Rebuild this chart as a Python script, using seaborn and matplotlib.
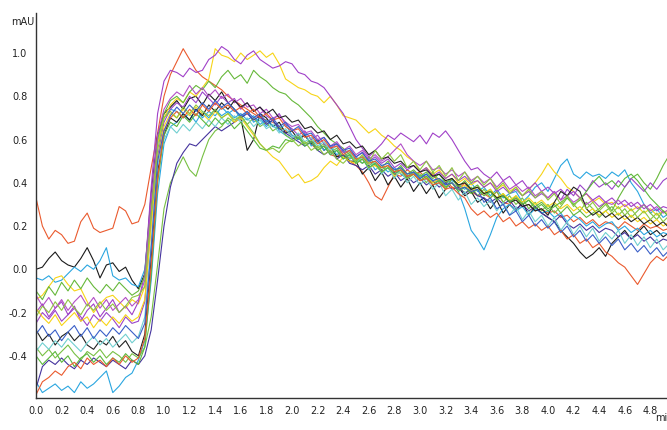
import numpy as np
import pandas as pd
import matplotlib
matplotlib.use('Agg')
import matplotlib.pyplot as plt
import seaborn as sns

# sampling grid of the detector traces (min)
time_min = np.round(np.arange(100) * 0.05, 2)

# traces, 10 values per 0.5 min
orange_1 = [0.33,0.20,0.14,0.18,0.16,0.12,0.13,0.22,0.26,0.19,
            0.17,0.18,0.19,0.29,0.27,0.21,0.22,0.30,0.47,0.63,
            0.80,0.90,0.96,1.02,0.97,0.92,0.89,0.87,0.85,0.83,
            0.80,0.78,0.76,0.74,0.72,0.70,0.69,0.68,0.66,0.64,
            0.62,0.60,0.62,0.58,0.55,0.57,0.53,0.52,0.55,0.50,
            0.48,0.45,0.40,0.34,0.32,0.38,0.44,0.43,0.46,0.44,
            0.45,0.42,0.44,0.40,0.41,0.38,0.37,0.40,0.36,0.34,
            0.35,0.33,0.36,0.31,0.30,0.33,0.29,0.30,0.27,0.28,
            0.26,0.27,0.24,0.25,0.22,0.24,0.21,0.23,0.20,0.22,
            0.21,0.19,0.22,0.20,0.18,0.21,0.19,0.20,0.18,0.19]
black_1 = [0.00,0.01,0.05,0.08,0.04,0.02,0.01,0.05,0.10,0.04,
           -0.04,0.02,0.03,-0.01,0.01,-0.05,-0.09,-0.02,0.35,0.62,
           0.72,0.75,0.78,0.74,0.79,0.80,0.76,0.81,0.78,0.82,
           0.77,0.74,0.70,0.55,0.60,0.72,0.70,0.66,0.68,0.63,
           0.64,0.60,0.62,0.58,0.60,0.55,0.57,0.52,0.53,0.50,
           0.50,0.44,0.47,0.41,0.45,0.39,0.43,0.38,0.42,0.36,
           0.40,0.35,0.39,0.33,0.37,0.42,0.38,0.34,0.36,0.31,
           0.33,0.28,0.32,0.26,0.30,0.27,0.31,0.25,0.29,0.26,
           0.24,0.22,0.18,0.15,0.12,0.08,0.05,0.07,0.10,0.06,
           0.12,0.15,0.18,0.14,0.17,0.20,0.16,0.18,0.15,0.17]
skyblue_1 = [-0.04,-0.05,-0.03,-0.06,-0.05,-0.02,0.01,-0.01,0.02,0.00,
             0.04,0.10,-0.03,-0.05,-0.04,-0.07,-0.08,0.00,0.30,0.58,
             0.70,0.74,0.73,0.70,0.72,0.68,0.73,0.70,0.74,0.71,
             0.73,0.70,0.72,0.69,0.71,0.67,0.69,0.66,0.65,0.67,
             0.62,0.60,0.63,0.57,0.59,0.55,0.57,0.53,0.55,0.51,
             0.52,0.49,0.51,0.46,0.48,0.45,0.47,0.44,0.42,0.45,
             0.43,0.44,0.41,0.42,0.40,0.41,0.39,0.37,0.40,0.36,
             0.38,0.34,0.37,0.33,0.35,0.36,0.31,0.34,0.38,0.40,
             0.36,0.42,0.48,0.51,0.44,0.42,0.45,0.43,0.44,0.42,
             0.45,0.43,0.46,0.40,0.36,0.30,0.26,0.28,0.24,0.26]
skyblue_2 = [-0.52,-0.57,-0.55,-0.53,-0.56,-0.54,-0.57,-0.52,-0.55,-0.53,
             -0.50,-0.47,-0.57,-0.54,-0.50,-0.48,-0.42,-0.33,-0.05,0.35,
             0.58,0.66,0.68,0.72,0.69,0.74,0.70,0.73,0.71,0.75,
             0.72,0.74,0.70,0.73,0.68,0.70,0.66,0.69,0.64,0.62,
             0.60,0.62,0.57,0.59,0.55,0.57,0.53,0.55,0.51,0.53,
             0.49,0.51,0.47,0.49,0.45,0.47,0.44,0.46,0.43,0.45,
             0.42,0.44,0.40,0.41,0.39,0.40,0.36,0.28,0.18,0.14,
             0.09,0.16,0.24,0.28,0.30,0.27,0.29,0.25,0.28,0.26,
             0.27,0.24,0.26,0.22,0.25,0.23,0.20,0.22,0.19,0.21,
             0.22,0.18,0.20,0.17,0.19,0.16,0.18,0.15,0.17,0.16]
yellow_1 = [-0.14,-0.12,-0.08,-0.04,-0.03,-0.07,-0.10,-0.09,-0.15,-0.20,
            -0.16,-0.13,-0.12,-0.15,-0.18,-0.14,-0.16,-0.08,0.28,0.58,
            0.70,0.76,0.79,0.77,0.82,0.80,0.84,0.88,1.02,0.99,
            0.98,0.96,1.00,0.97,0.99,1.01,0.98,1.00,0.95,0.88,
            0.86,0.84,0.83,0.81,0.80,0.77,0.80,0.76,0.71,0.70,
            0.69,0.66,0.63,0.65,0.62,0.60,0.57,0.55,0.52,0.50,
            0.45,0.47,0.44,0.46,0.42,0.44,0.40,0.42,0.39,0.41,
            0.38,0.40,0.37,0.39,0.36,0.38,0.34,0.37,0.40,0.44,
            0.49,0.45,0.42,0.38,0.36,0.33,0.35,0.31,0.33,0.30,
            0.31,0.28,0.30,0.27,0.29,0.26,0.28,0.25,0.27,0.26]
purple_1 = [-0.20,-0.16,-0.22,-0.18,-0.15,-0.21,-0.17,-0.24,-0.19,-0.16,
            -0.22,-0.18,-0.14,-0.20,-0.17,-0.21,-0.15,-0.02,0.38,0.72,
            0.87,0.92,0.91,0.89,0.93,0.91,0.92,0.97,0.99,1.03,
            1.01,0.97,0.95,0.99,1.01,0.97,0.95,0.93,0.94,0.96,
            0.95,0.91,0.90,0.87,0.86,0.84,0.80,0.76,0.72,0.66,
            0.60,0.56,0.52,0.55,0.58,0.62,0.60,0.63,0.61,0.59,
            0.62,0.58,0.63,0.61,0.64,0.60,0.55,0.50,0.46,0.47,
            0.44,0.42,0.45,0.41,0.43,0.39,0.41,0.37,0.40,0.36,
            0.38,0.35,0.37,0.34,0.36,0.33,0.35,0.32,0.34,0.31,
            0.33,0.30,0.32,0.29,0.31,0.28,0.30,0.27,0.29,0.28]
green_1 = [-0.10,-0.14,-0.08,-0.12,-0.06,-0.10,-0.05,-0.09,-0.04,-0.08,
           -0.11,-0.07,-0.10,-0.06,-0.09,-0.12,-0.10,-0.03,0.30,0.60,
           0.72,0.78,0.80,0.77,0.82,0.85,0.83,0.87,0.84,0.89,
           0.92,0.88,0.90,0.86,0.92,0.89,0.87,0.84,0.82,0.81,
           0.78,0.76,0.73,0.70,0.66,0.63,0.60,0.58,0.56,0.53,
           0.51,0.49,0.52,0.48,0.47,0.50,0.45,0.48,0.44,0.46,
           0.43,0.45,0.42,0.44,0.40,0.42,0.38,0.41,0.37,0.39,
           0.35,0.37,0.33,0.35,0.31,0.34,0.30,0.32,0.29,0.31,
           0.28,0.30,0.26,0.29,0.25,0.27,0.24,0.26,0.28,0.31,
           0.27,0.33,0.38,0.42,0.44,0.40,0.37,0.42,0.48,0.53]
green_2 = [-0.36,-0.40,-0.37,-0.41,-0.38,-0.35,-0.39,-0.42,-0.38,-0.40,
           -0.37,-0.41,-0.38,-0.40,-0.43,-0.39,-0.41,-0.36,-0.22,0.02,
           0.28,0.40,0.46,0.52,0.46,0.43,0.52,0.60,0.64,0.66,
           0.70,0.68,0.71,0.67,0.70,0.66,0.68,0.64,0.66,0.62,
           0.60,0.62,0.58,0.60,0.56,0.58,0.54,0.56,0.52,0.54,
           0.50,0.52,0.48,0.50,0.46,0.48,0.45,0.47,0.43,0.45,
           0.44,0.40,0.45,0.41,0.37,0.42,0.39,0.35,0.38,0.34,
           0.37,0.33,0.36,0.31,0.34,0.30,0.33,0.28,0.31,0.27,
           0.30,0.26,0.29,0.33,0.30,0.27,0.31,0.28,0.24,0.27,
           0.29,0.25,0.28,0.24,0.27,0.30,0.26,0.23,0.27,0.24]
indigo_1 = [-0.55,-0.45,-0.42,-0.44,-0.41,-0.44,-0.46,-0.42,-0.44,-0.41,
            -0.43,-0.45,-0.42,-0.44,-0.46,-0.42,-0.44,-0.40,-0.28,-0.05,
            0.20,0.38,0.49,0.54,0.58,0.57,0.60,0.63,0.66,0.64,
            0.66,0.68,0.70,0.72,0.69,0.71,0.67,0.69,0.65,0.63,
            0.61,0.59,0.57,0.59,0.55,0.53,0.55,0.51,0.53,0.49,
            0.48,0.46,0.48,0.44,0.46,0.43,0.45,0.41,0.43,0.40,
            0.42,0.39,0.41,0.38,0.40,0.37,0.38,0.35,0.37,0.34,
            0.33,0.31,0.33,0.30,0.32,0.28,0.30,0.27,0.29,0.26,
            0.24,0.22,0.25,0.21,0.19,0.21,0.18,0.20,0.17,0.19,
            0.18,0.15,0.17,0.14,0.16,0.13,0.15,0.12,0.14,0.13]
purple_2 = [-0.25,-0.20,-0.23,-0.19,-0.24,-0.21,-0.18,-0.22,-0.26,-0.21,
            -0.24,-0.20,-0.23,-0.27,-0.22,-0.25,-0.24,-0.15,0.22,0.52,
            0.68,0.74,0.77,0.75,0.80,0.77,0.82,0.79,0.76,0.80,
            0.77,0.79,0.74,0.77,0.73,0.75,0.71,0.69,0.72,0.67,
            0.65,0.62,0.64,0.60,0.62,0.58,0.56,0.58,0.54,0.55,
            0.52,0.54,0.50,0.52,0.49,0.51,0.47,0.49,0.46,0.48,
            0.45,0.47,0.43,0.45,0.42,0.44,0.41,0.43,0.40,0.41,
            0.38,0.40,0.36,0.38,0.35,0.37,0.34,0.36,0.33,0.35,
            0.33,0.36,0.32,0.37,0.34,0.39,0.36,0.41,0.38,0.40,
            0.37,0.41,0.38,0.42,0.39,0.36,0.40,0.37,0.41,0.43]
magenta_1 = [-0.12,-0.17,-0.13,-0.18,-0.14,-0.19,-0.15,-0.12,-0.17,-0.13,
             -0.18,-0.14,-0.19,-0.16,-0.13,-0.17,-0.14,-0.05,0.32,0.62,
             0.74,0.79,0.82,0.80,0.85,0.81,0.84,0.80,0.83,0.79,
             0.81,0.77,0.79,0.75,0.76,0.72,0.74,0.70,0.71,0.68,
             0.66,0.67,0.63,0.64,0.60,0.61,0.57,0.59,0.55,0.57,
             0.53,0.55,0.51,0.53,0.50,0.52,0.55,0.58,0.53,0.50,
             0.48,0.50,0.46,0.47,0.44,0.46,0.43,0.45,0.41,0.43,
             0.40,0.42,0.38,0.41,0.37,0.39,0.36,0.38,0.34,0.36,
             0.33,0.36,0.32,0.34,0.31,0.33,0.30,0.32,0.29,0.31,
             0.30,0.32,0.29,0.31,0.28,0.30,0.27,0.29,0.26,0.28]
yellow_2 = [-0.18,-0.22,-0.25,-0.21,-0.26,-0.23,-0.20,-0.24,-0.22,-0.27,
            -0.23,-0.26,-0.22,-0.25,-0.21,-0.24,-0.22,-0.14,0.20,0.50,
            0.66,0.72,0.70,0.74,0.71,0.75,0.72,0.69,0.73,0.70,
            0.72,0.68,0.70,0.66,0.62,0.58,0.55,0.52,0.50,0.46,
            0.42,0.44,0.40,0.41,0.43,0.47,0.50,0.48,0.52,0.50,
            0.49,0.51,0.47,0.48,0.45,0.47,0.43,0.45,0.42,0.44,
            0.41,0.43,0.40,0.42,0.38,0.40,0.37,0.39,0.36,0.38,
            0.35,0.37,0.33,0.35,0.32,0.34,0.31,0.33,0.30,0.32,
            0.29,0.31,0.28,0.30,0.27,0.29,0.26,0.28,0.25,0.27,
            0.24,0.26,0.23,0.25,0.22,0.24,0.21,0.23,0.20,0.22]
black_2 = [-0.28,-0.33,-0.30,-0.35,-0.31,-0.29,-0.33,-0.30,-0.35,-0.37,
           -0.33,-0.35,-0.31,-0.36,-0.33,-0.38,-0.40,-0.30,0.05,0.45,
           0.62,0.70,0.68,0.72,0.69,0.74,0.71,0.76,0.73,0.77,
           0.74,0.78,0.75,0.77,0.73,0.75,0.72,0.74,0.70,0.71,
           0.68,0.69,0.65,0.66,0.63,0.64,0.60,0.62,0.58,0.59,
           0.56,0.57,0.53,0.55,0.51,0.52,0.49,0.50,0.47,0.48,
           0.45,0.46,0.43,0.44,0.41,0.42,0.39,0.40,0.37,0.38,
           0.35,0.36,0.33,0.34,0.31,0.32,0.29,0.30,0.27,0.28,
           0.25,0.31,0.36,0.34,0.38,0.36,0.28,0.25,0.27,0.24,
           0.26,0.23,0.25,0.22,0.24,0.21,0.23,0.20,0.22,0.19]
cyan_1 = [-0.38,-0.34,-0.37,-0.33,-0.36,-0.32,-0.35,-0.38,-0.34,-0.31,
          -0.35,-0.32,-0.36,-0.33,-0.30,-0.34,-0.31,-0.22,0.12,0.48,
          0.60,0.66,0.63,0.67,0.64,0.68,0.65,0.69,0.66,0.70,
          0.67,0.71,0.68,0.70,0.66,0.69,0.65,0.67,0.63,0.65,
          0.61,0.63,0.59,0.61,0.57,0.59,0.55,0.57,0.53,0.55,
          0.49,0.52,0.46,0.50,0.44,0.47,0.42,0.46,0.40,0.43,
          0.39,0.42,0.37,0.40,0.34,0.37,0.32,0.36,0.30,0.33,
          0.29,0.32,0.27,0.31,0.25,0.29,0.23,0.27,0.22,0.25,
          0.20,0.24,0.18,0.22,0.16,0.20,0.15,0.19,0.13,0.17,
          0.14,0.18,0.12,0.16,0.11,0.15,0.10,0.14,0.09,0.12]
green_3 = [-0.40,-0.44,-0.41,-0.38,-0.43,-0.40,-0.45,-0.41,-0.39,-0.43,
           -0.40,-0.44,-0.41,-0.43,-0.39,-0.42,-0.44,-0.36,-0.02,0.40,
           0.62,0.68,0.66,0.71,0.68,0.72,0.69,0.66,0.70,0.67,
           0.69,0.65,0.68,0.64,0.60,0.56,0.55,0.57,0.56,0.60,
           0.59,0.61,0.57,0.59,0.55,0.57,0.53,0.55,0.51,0.53,
           0.49,0.51,0.47,0.49,0.45,0.47,0.44,0.46,0.42,0.44,
           0.41,0.43,0.39,0.41,0.38,0.40,0.36,0.38,0.35,0.37,
           0.34,0.36,0.32,0.34,0.31,0.33,0.30,0.32,0.28,0.30,
           0.27,0.29,0.31,0.33,0.30,0.32,0.36,0.40,0.43,0.39,
           0.41,0.38,0.42,0.44,0.41,0.37,0.33,0.30,0.27,0.24]
orange_2 = [-0.58,-0.52,-0.50,-0.47,-0.49,-0.45,-0.43,-0.46,-0.41,-0.44,
            -0.42,-0.45,-0.41,-0.44,-0.40,-0.43,-0.41,-0.32,0.02,0.42,
            0.64,0.70,0.73,0.70,0.74,0.71,0.76,0.73,0.77,0.74,
            0.76,0.73,0.75,0.72,0.74,0.70,0.72,0.69,0.70,0.66,
            0.64,0.65,0.61,0.62,0.58,0.60,0.56,0.57,0.53,0.55,
            0.51,0.52,0.49,0.50,0.47,0.48,0.45,0.46,0.43,0.44,
            0.41,0.42,0.39,0.40,0.37,0.38,0.35,0.33,0.28,0.25,
            0.27,0.24,0.26,0.22,0.24,0.20,0.22,0.19,0.21,0.18,
            0.20,0.16,0.18,0.14,0.16,0.12,0.14,0.10,0.12,0.08,
            0.06,0.03,0.01,-0.03,-0.07,-0.02,0.03,0.06,0.04,0.07]
green_4 = [-0.22,-0.17,-0.20,-0.15,-0.19,-0.14,-0.18,-0.21,-0.16,-0.19,
           -0.15,-0.19,-0.16,-0.20,-0.17,-0.13,-0.12,-0.08,0.25,0.55,
           0.70,0.73,0.70,0.75,0.72,0.76,0.73,0.71,0.74,0.70,
           0.72,0.69,0.71,0.67,0.63,0.58,0.55,0.56,0.54,0.58,
           0.60,0.57,0.59,0.55,0.57,0.53,0.55,0.51,0.49,0.52,
           0.50,0.53,0.49,0.55,0.51,0.54,0.50,0.53,0.47,0.50,
           0.46,0.50,0.45,0.48,0.43,0.47,0.41,0.45,0.40,0.43,
           0.39,0.42,0.37,0.40,0.35,0.38,0.34,0.37,0.33,0.36,
           0.32,0.35,0.30,0.34,0.29,0.33,0.28,0.31,0.27,0.30,
           0.26,0.29,0.25,0.28,0.24,0.27,0.23,0.26,0.22,0.25]
blue_1 = [-0.30,-0.26,-0.31,-0.28,-0.33,-0.29,-0.26,-0.31,-0.27,-0.32,
          -0.28,-0.31,-0.27,-0.30,-0.26,-0.29,-0.32,-0.25,0.10,0.50,
          0.64,0.71,0.75,0.72,0.76,0.73,0.77,0.74,0.78,0.75,
          0.77,0.74,0.71,0.73,0.70,0.72,0.68,0.70,0.66,0.68,
          0.64,0.66,0.62,0.63,0.59,0.61,0.57,0.58,0.55,0.56,
          0.52,0.54,0.50,0.51,0.48,0.49,0.46,0.47,0.44,0.45,
          0.42,0.44,0.41,0.42,0.39,0.40,0.37,0.38,0.36,0.37,
          0.31,0.33,0.28,0.30,0.25,0.27,0.22,0.25,0.20,0.23,
          0.19,0.22,0.17,0.20,0.15,0.18,0.13,0.16,0.12,0.15,
          0.11,0.14,0.09,0.12,0.08,0.11,0.07,0.10,0.06,0.09]

runs = {'orange 1': orange_1, 'black 1': black_1, 'skyblue 1': skyblue_1,
        'skyblue 2': skyblue_2, 'yellow 1': yellow_1, 'purple 1': purple_1,
        'green 1': green_1, 'green 2': green_2, 'indigo 1': indigo_1,
        'purple 2': purple_2, 'magenta 1': magenta_1, 'yellow 2': yellow_2,
        'black 2': black_2, 'cyan 1': cyan_1, 'green 3': green_3,
        'orange 2': orange_2, 'green 4': green_4, 'blue 1': blue_1}
colors = ['#ea5a2e', '#1a1a1a', '#2aa6e0', '#2aa6e0', '#f7d417', '#a040c8',
          '#66b83a', '#77c043', '#45339e', '#9b45c9', '#b24fc6', '#f7d417',
          '#222222', '#70cfd0', '#5cb83c', '#ea5a2e', '#8fc640', '#3a5fc8']

df = pd.concat([pd.DataFrame({'min': time_min, 'mAU': v, 'run': k})
                for k, v in runs.items()], ignore_index=True)

sns.set_style('white')
fig = plt.figure(figsize=(6.67, 4.30), dpi=100)
ax = fig.add_axes([36/667, 32/430, 1 - 36/667, 385/430])
sns.lineplot(data=df, x='min', y='mAU', hue='run', palette=colors,
             linewidth=0.8, legend=False, estimator=None, sort=False, ax=ax)

ax.set_xlim(0, 4.93)
ax.set_ylim(-0.595, 1.185)
xt = np.round(np.arange(0, 4.81, 0.2), 1)
ax.set_xticks(xt)
ax.set_xticklabels([f'{v:.1f}' for v in xt])
yt = [-0.4, -0.2, 0.0, 0.2, 0.4, 0.6, 0.8, 1.0]
ax.set_yticks(yt)
ax.set_yticklabels([f'{v:.1f}' for v in yt])
ax.set_xlabel('')
ax.set_ylabel('')
for s in ['top', 'right']:
    ax.spines[s].set_visible(False)
for s in ['left', 'bottom']:
    ax.spines[s].set_color('#333333')
    ax.spines[s].set_linewidth(1.0)
ax.tick_params(direction='out', length=3, width=1, color='#333333',
               labelsize=7, labelcolor='#222222', pad=3)

fig.text(11/667, 1 - 22/430, 'mAU', fontsize=7, color='#222222', va='center')
# axis unit sits at the right edge and is partly cut, as in the original
fig.text(655/667, 1 - 418/430, 'min', fontsize=7, color='#222222', va='center')

fig.savefig('out.png', dpi=100)
